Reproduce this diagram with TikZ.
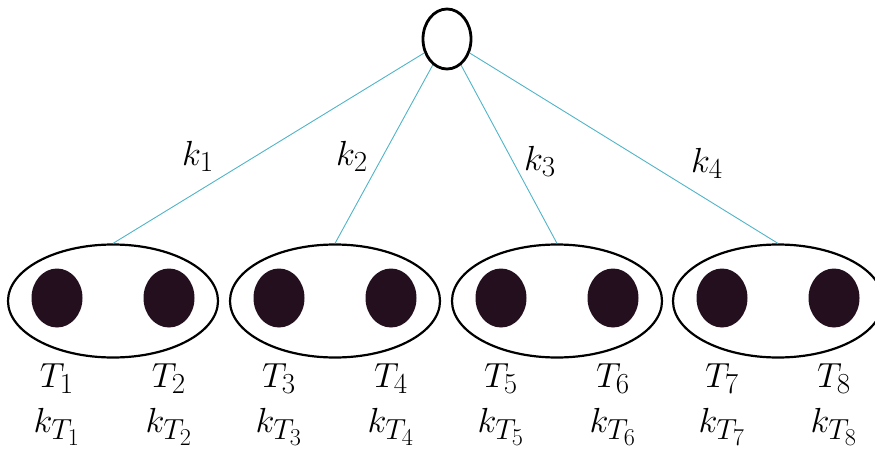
\documentclass[tikz,border=0pt]{standalone}
\usetikzlibrary{shapes.geometric}
\definecolor{linecol}{RGB}{80,180,200}
\definecolor{leafcol}{RGB}{35,15,30}
\begin{document}
\begin{tikzpicture}[x=1pt,y=-1pt,
  grp/.style={draw,ellipse,line width=2.2pt,minimum width=210pt,minimum height=113pt,inner sep=0pt},
  leaf/.style={ellipse,fill=leafcol,minimum width=51pt,minimum height=59pt,inner sep=0pt},
  edge/.style={draw=linecol,line width=0.9pt},
  lab/.style={font=\Huge,scale=1.4,transform shape,anchor=base,inner sep=0pt}]
\useasboundingbox (0,0) rectangle (875,450);
\node[draw,ellipse,line width=2.8pt,minimum width=48pt,minimum height=60pt,inner sep=0pt] (root) at (447,39) {};%上の節点
\foreach \g/\cx in {1/113,2/335,3/557,4/778}{
  \pgfmathtruncatemacro\a{2*\g-1}
  \pgfmathtruncatemacro\b{2*\g}
  \node[grp] (e\g) at (\cx,301) {};%グループ
  \node[leaf] (t\a) at (\cx-56,298) {};
  \node[leaf] (t\b) at (\cx+56,298) {};
  \node[lab] (T\a) at (\cx-56,387) {$T_{\a}$};
  \node[lab] (T\b) at (\cx+56,387) {$T_{\b}$};
  \node[lab] (kT\a) at (\cx-56,432) {$k_{T_{\a}}$};
  \node[lab] (kT\b) at (\cx+56,432) {$k_{T_{\b}}$};
  \draw[edge] (root) -- (e\g.north);%枝
}
\foreach \g/\x/\y in {1/198/165,2/352/165,3/540/170,4/707/172}
  \node[lab] (k\g) at (\x,\y) {$k_{\g}$};%枝の重み
\end{tikzpicture}
\end{document}
